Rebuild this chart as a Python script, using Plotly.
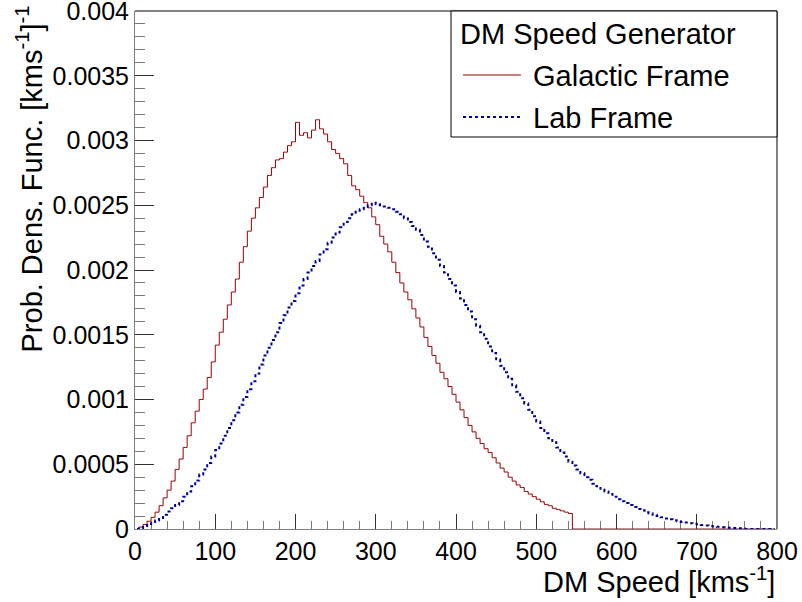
import plotly.graph_objects as go

# ---- data, 5 km/s bins ----
bin_width = 5.0
speed_centers = [2.5 + 5 * i for i in range(160)]

# Galactic frame PDF, in units of 1e-4 (km/s)^-1, bins 0-5 ... 540-545, then zero
galactic_pdf_e4 = [
    0.0, 0.15, 0.35, 0.6, 0.9, 1.3, 1.8, 2.4, 3.0, 3.7,
    4.6, 5.4, 6.3, 7.2, 8.2, 9.1, 10.0, 10.8, 11.7, 12.9,
    14.2, 15.2, 16.2, 17.3, 18.3, 19.3, 20.6, 21.8, 23.0, 24.0,
    24.8, 25.6, 26.4, 27.3, 27.9, 28.5, 28.6, 29.1, 29.6, 29.9,
    31.4, 30.4, 30.6, 30.2, 30.8, 31.6, 30.9, 30.5, 29.9, 29.3,
    29.0, 28.6, 28.2, 27.3, 26.5, 26.2, 25.7, 25.2, 24.8, 24.1,
    23.5, 22.6, 22.0, 21.4, 20.6, 19.8, 19.0, 18.3, 17.7, 17.0,
    16.3, 15.6, 14.8, 14.1, 13.4, 12.8, 12.1, 11.6, 11.0, 10.4,
    9.8, 9.2, 8.6, 8.0, 7.5, 7.0, 6.6, 6.2, 5.9, 5.5,
    5.1, 4.7, 4.4, 4.0, 3.7, 3.4, 3.2, 2.9, 2.7, 2.5,
    2.3, 2.1, 1.9, 1.8, 1.6, 1.5, 1.4, 1.3, 1.2,
] + [0.0] * 51

# Lab frame PDF, in units of 1e-4 (km/s)^-1
lab_pdf_e4 = [
    0.0, 0.05, 0.15, 0.3, 0.45, 0.65, 0.85, 1.1, 1.35, 1.6,
    1.85, 2.15, 2.5, 2.9, 3.3, 3.75, 4.2, 4.6, 5.1, 5.6,
    6.1, 6.6, 7.2, 7.8, 8.4, 9.0, 9.6, 10.2, 10.8, 11.4,
    12.0, 12.7, 13.4, 14.0, 14.6, 15.2, 15.9, 16.5, 17.1, 17.6,
    18.2, 18.8, 19.3, 19.8, 20.3, 20.7, 21.2, 21.6, 22.1, 22.5,
    22.9, 23.3, 23.7, 24.0, 24.3, 24.5, 24.7, 24.8, 25.0, 25.2,
    25.1, 25.0, 24.9, 24.8, 24.7, 24.5, 24.3, 24.0, 23.7, 23.4,
    23.1, 22.7, 22.2, 21.8, 21.3, 20.8, 20.3, 19.8, 19.3, 18.8,
    18.3, 17.8, 17.3, 16.8, 16.2, 15.7, 15.2, 14.7, 14.1, 13.6,
    13.1, 12.6, 12.1, 11.6, 11.1, 10.6, 10.1, 9.7, 9.2, 8.7,
    8.3, 7.8, 7.4, 7.0, 6.7, 6.3, 5.9, 5.6, 5.2, 4.9,
    4.6, 4.3, 4.0, 3.8, 3.5, 3.3, 3.1, 2.9, 2.7, 2.5,
    2.3, 2.15, 2.0, 1.85, 1.7, 1.55, 1.45, 1.3, 1.2, 1.1,
    1.0, 0.9, 0.82, 0.75, 0.68, 0.6, 0.55, 0.5, 0.45, 0.4,
    0.35, 0.3, 0.27, 0.23, 0.2, 0.17, 0.14, 0.12, 0.1, 0.07,
    0.05, 0.03,
] + [0.0] * 8

series_names = ["Galactic Frame", "Lab Frame"]
legend_title = "DM Speed Generator"
x_tick_vals = [0, 100, 200, 300, 400, 500, 600, 700, 800]
x_tick_labels = ["0", "100", "200", "300", "400", "500", "600", "700", "800"]
y_tick_vals = [0, 0.0005, 0.001, 0.0015, 0.002, 0.0025, 0.003, 0.0035, 0.004]
y_tick_labels = ["0", "0.0005", "0.001", "0.0015", "0.002", "0.0025", "0.003", "0.0035", "0.004"]

galactic_pdf = [v * 1e-4 for v in galactic_pdf_e4]
lab_pdf = [v * 1e-4 for v in lab_pdf_e4]

RED = "#990000"
BLUE = "#000099"
FONT = "Liberation Sans, Arial, Helvetica, sans-serif"

fig = go.Figure()
fig.add_trace(go.Scatter(
    x=speed_centers, y=galactic_pdf, mode="lines", line_shape="hvh",
    line=dict(color=RED, width=1), name=series_names[0], showlegend=False,
))
fig.add_trace(go.Scatter(
    x=speed_centers, y=lab_pdf, mode="lines", line_shape="hvh",
    line=dict(color=BLUE, width=2, dash="dot"), name=series_names[1], showlegend=False,
))

axis_common = dict(
    showgrid=False, zeroline=False, showline=True, linecolor="#808080", linewidth=1,
    mirror=False, ticks="inside", tickcolor="#333333", tickwidth=1,
    tickfont=dict(family=FONT, size=25, color="black"), layer="below traces",
    automargin=False, ticklabeloverflow="allow",
)
fig.update_xaxes(
    range=[0, 800], tickmode="array", tickvals=x_tick_vals, ticktext=x_tick_labels,
    ticklen=15, minor=dict(dtick=20, ticks="inside", ticklen=8, tickcolor="#777777"),
    **axis_common,
)
fig.update_yaxes(
    range=[0, 0.004], tickmode="array", tickvals=y_tick_vals, ticktext=y_tick_labels,
    ticklen=19, minor=dict(dtick=0.0001, ticks="inside", ticklen=10, tickcolor="#777777"),
    ticklabelstandoff=0,
    **axis_common,
)

W, H = 802, 602
L, R, T, B = 135, 25, 11, 73
pw, ph = W - L - R, H - T - B


def px(xp):
    return (xp - L) / pw


def py(yp):
    return (H - B - yp) / ph


shapes = [
    # frame top and right
    dict(type="line", xref="paper", yref="paper", x0=0, x1=1, y0=1, y1=1, line=dict(color="black", width=1)),
    dict(type="line", xref="paper", yref="paper", x0=1, x1=1, y0=0, y1=1, line=dict(color="black", width=1)),
    # legend box
    dict(type="rect", xref="paper", yref="paper", x0=px(451), x1=1, y0=py(137), y1=1,
         line=dict(color="black", width=1), fillcolor="white", layer="above"),
    dict(type="line", xref="paper", yref="paper", x0=px(463), x1=px(521), y0=py(75), y1=py(75),
         line=dict(color=RED, width=1), layer="above"),
    dict(type="line", xref="paper", yref="paper", x0=px(463), x1=px(521), y0=py(117), y1=py(117),
         line=dict(color=BLUE, width=2, dash="dot"), layer="above"),
]

tfont = dict(family=FONT, size=29, color="black")
annotations = [
    dict(xref="paper", yref="paper", x=px(458), y=py(34), text=legend_title, showarrow=False,
         xanchor="left", yanchor="middle", font=tfont),
    dict(xref="paper", yref="paper", x=px(531), y=py(76), text=series_names[0], showarrow=False,
         xanchor="left", yanchor="middle", font=tfont),
    dict(xref="paper", yref="paper", x=px(531), y=py(118), text=series_names[1], showarrow=False,
         xanchor="left", yanchor="middle", font=tfont),
    dict(xref="paper", yref="paper", x=1.0, y=py(580), text="DM Speed [kms<sup>-1</sup>]",
         showarrow=False, xanchor="right", yanchor="middle", font=tfont),
    dict(xref="paper", yref="paper", x=px(30), y=py(4), text="Prob. Dens. Func. [kms<sup>-1</sup>]<sup>-1</sup>",
         showarrow=False, xanchor="center", yanchor="top", textangle=-90, font=tfont),
]

fig.update_layout(
    width=W, height=H, margin=dict(l=L, r=R, t=T, b=B, autoexpand=False),
    paper_bgcolor="white", plot_bgcolor="white",
    shapes=shapes, annotations=annotations, showlegend=False,
)

fig.write_html("out.html")
